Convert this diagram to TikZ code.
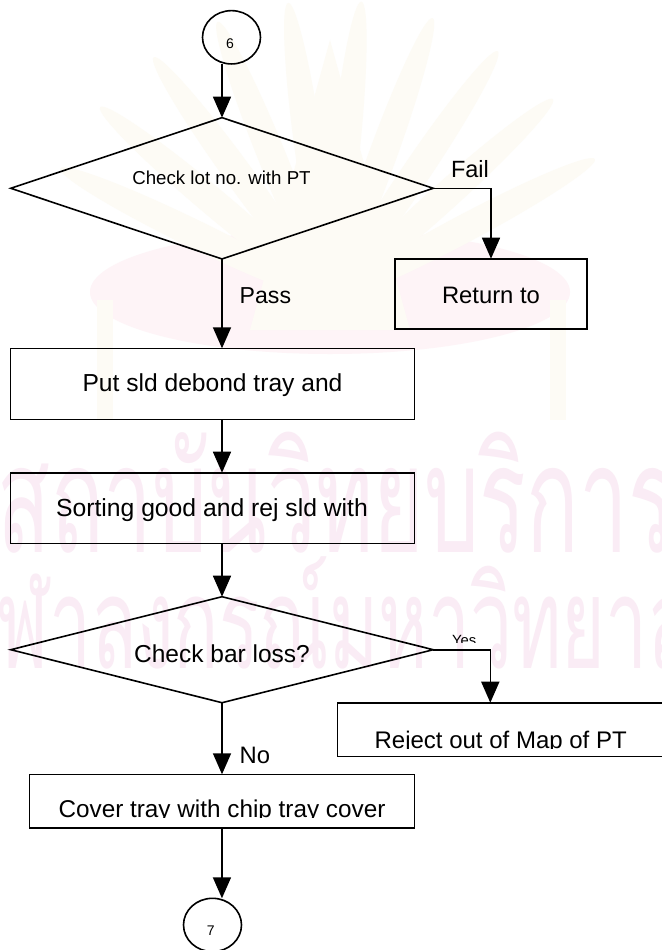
\documentclass[tikz,border=0pt]{standalone}
\usepackage{fontspec}
\setmainfont{Liberation Sans}
\newfontfamily\thaifont[Script=Thai]{Loma}
\usetikzlibrary{shapes.geometric,arrows.meta}

\definecolor{wmpink}{RGB}{250,236,245}
\definecolor{wmbeige}{RGB}{253,251,245}
\definecolor{wmrose}{RGB}{254,244,247}

\newcommand{\fsz}[1]{\fontsize{#1}{#1}\selectfont}

\begin{document}
\begin{tikzpicture}[x=1pt,y=-1pt,
  shapeline/.style={draw=black, line width=1.6pt, inner sep=0pt, outer sep=0pt},
  procbox/.style={shapeline, rectangle},
  decision/.style={shapeline, diamond},
  connector/.style={shapeline, ellipse},
  arr/.style={draw=black, line width=1.6pt, -{Triangle[width=18pt,length=21pt]}},
  txt/.style={inner sep=0pt, outer sep=0pt, anchor=base, text=black},
  wmtext/.style={inner sep=0pt, outer sep=0pt, anchor=base west, text=wmpink,
                 font=\thaifont\fsz{150}}]

\useasboundingbox (0,0) rectangle (661,950);
\fill[white] (0,0) rectangle (661,950);

% faint university emblem in the background
\begin{scope}
  \fill[wmrose] (330,292) ellipse [x radius=240, y radius=62];
  \foreach \a in {-62,-48,-34,-20,-6,8,22,36,50,64} {
    \fill[wmbeige, rotate around={\a:(330,300)}] (330,150) ellipse [x radius=14, y radius=150];
  }
  \fill[wmbeige] (250,330) -- (330,40) -- (410,330) -- cycle;
  \fill[wmbeige] (97,300) rectangle (113,420);
  \fill[wmbeige] (550,300) rectangle (566,420);
\end{scope}

% faint watermark lettering
\node[wmtext] (wmA) at (-2,552) {\scalebox{0.58}[1]{สถาบันวิทยบริการ}};
\node[wmtext] (wmB) at (-46,668) {\scalebox{0.5}[0.85]{จุฬาลงกรณ์มหาวิทยาลัย}};

% flowchart shapes
\node[connector, minimum width=58pt, minimum height=53.3pt] (c6) at (231.5,37.3) {};
\node[decision, minimum width=422.5pt, minimum height=141.3pt] (d1) at (222,188.3) {};
\node[procbox, minimum width=192pt, minimum height=70.3pt] (ret) at (491,293.85) {};
\node[procbox, minimum width=403.9pt, minimum height=71pt] (put) at (212.45,383.8) {};
\node[procbox, minimum width=403.9pt, minimum height=70.6pt] (sort) at (212.45,508) {};
\node[decision, minimum width=422.5pt, minimum height=106pt] (d2) at (222,649.7) {};
\node[procbox, minimum width=342.7pt, minimum height=53.8pt] (rej) at (508.65,729.6) {};
\node[procbox, minimum width=384.9pt, minimum height=53.4pt] (cov) at (221.95,801) {};
\node[connector, minimum width=58pt, minimum height=53.3pt] (c7) at (212.5,924.95) {};
\coordinate (yesx) at (490.3,649.7);

% texts
\node[txt, font=\fsz{14}] (t6) at (230,48.3) {6};
\node[txt, font=\fsz{18.7}] (td1) at (221.5,184.3) {Check lot no. with PT};
\node[txt, anchor=base west, font=\fsz{23.5}] (tfail) at (451,177.7) {Fail};
\node[txt, anchor=base west, font=\fsz{23.1}] (tpass) at (239.7,303.3) {Pass};
\node[txt, font=\fsz{23.8}] (tret) at (491,303.3) {Return to};
\node[txt, font=\fsz{24.6}] (tput) at (212.5,391.7) {Put sld debond tray and};
\node[txt, font=\fsz{24.7}] (tsort) at (212,516.7) {Sorting good and rej sld with};
\node[txt, font=\fsz{24.5}] (td2) at (222,662.7) {Check bar loss?};
\node[txt, anchor=base west, font=\fsz{23.8}] (tno) at (239.7,763.3) {No};
\node[txt, font=\fsz{14}] (t7) at (210.8,935.7) {7};

% labels whose lower part is cut off
\begin{scope}
  \clip (440,600) rectangle (500,642);
  \node[txt, anchor=base west, font=\fsz{14.8}] (tyes) at (452,645.6) {Yes};
\end{scope}
\begin{scope}
  \clip ([yshift=-0.5pt]rej.north west) rectangle ([yshift=8pt]rej.south east);
  \node[txt, font=\fsz{24}] (trej) at (500.7,748.5) {Reject out of Map of PT};
\end{scope}
\begin{scope}
  \clip ([yshift=-0.5pt]cov.north west) rectangle ([yshift=10pt]cov.south east);
  \node[txt, font=\fsz{24.3}] (tcov) at (222,817.7) {Cover tray with chip tray cover};
\end{scope}

% connectors
\draw[arr] (d1.north |- c6.south) -- (d1.north);
\draw[arr] (d1.east) -| (ret.north);
\draw[arr] (d1.south) -- (d1.south |- put.north);
\draw[arr] (d1.south |- put.south) -- (d1.south |- sort.north);
\draw[arr] (d1.south |- sort.south) -- (d2.north);
\draw[arr] (d2.east) -- (yesx) -- (yesx |- rej.north);
\draw[arr] (d2.south) -- (d2.south |- cov.north);
\draw[arr] (cov.south) -- (cov.south |- c7.north);

\end{tikzpicture}
\end{document}
